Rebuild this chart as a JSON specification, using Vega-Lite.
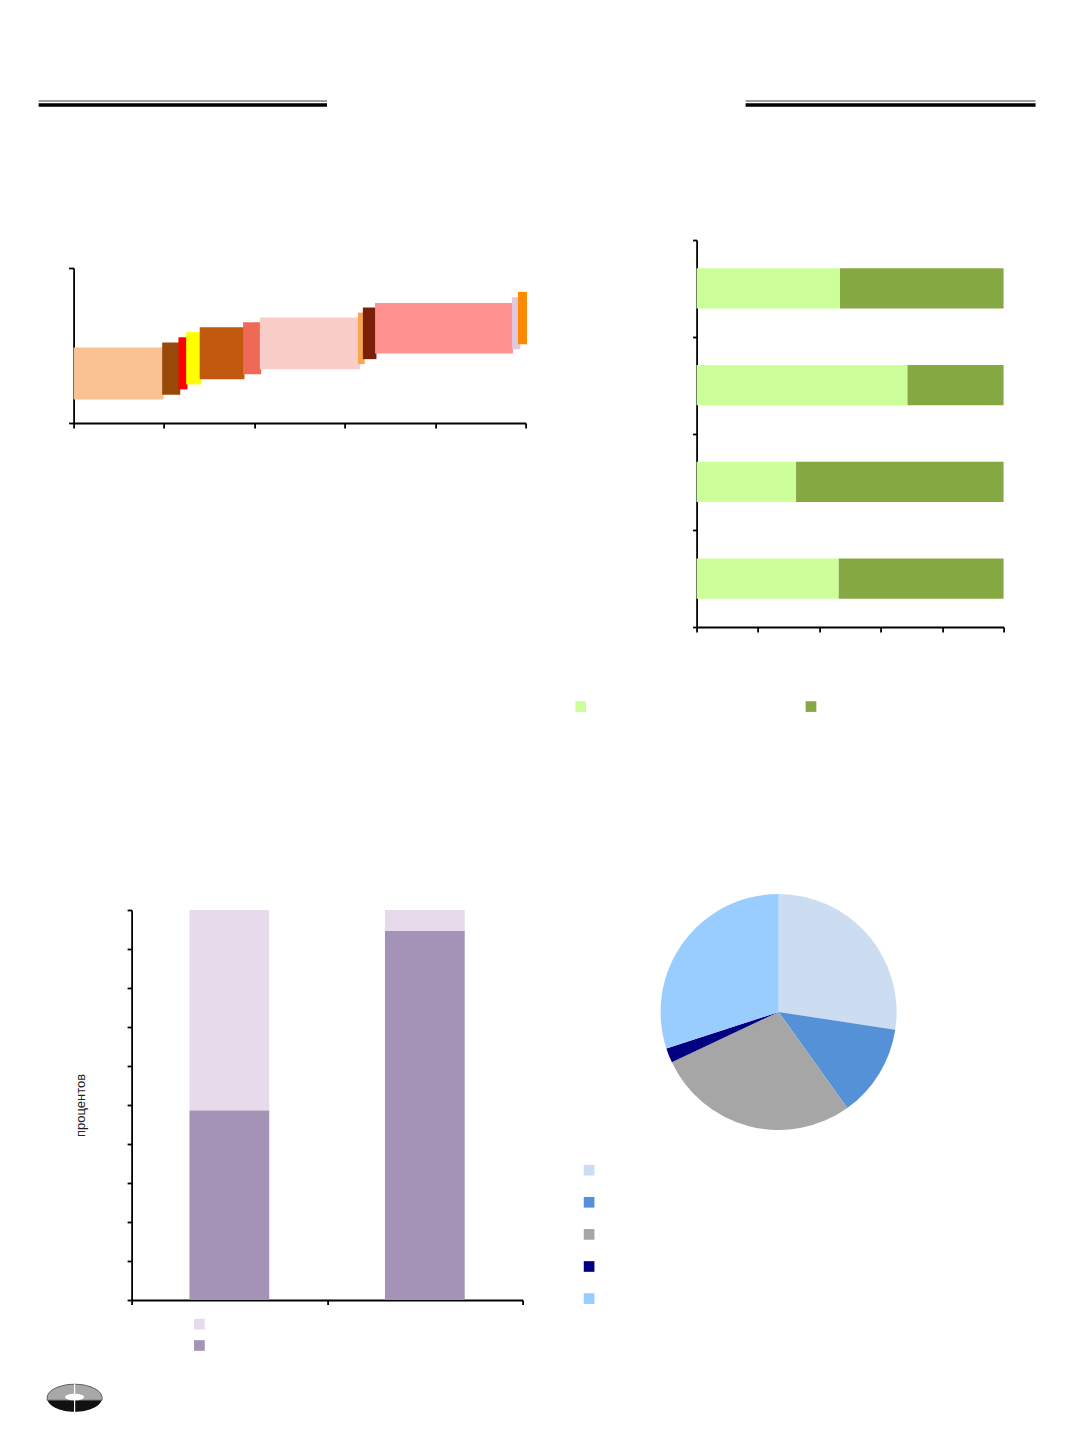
{
  "$schema": "https://vega.github.io/schema/vega-lite/v6.json",
  "background": "white",
  "padding": {"left": 36.6, "top": 99, "right": 0, "bottom": 0},
  "spacing": 0,
  "resolve": {"scale": {"color": "independent"}, "legend": {"color": "independent"}},
  "hconcat": [
    {
      "spacing": 0,
      "resolve": {"scale": {"color": "independent"}, "legend": {"color": "independent"}},
      "vconcat": [
        {
          "width": 288.4, "height": 8,
          "data": {"values": [{"k": 1}]},
          "layer": [
            {"mark": {"type": "rule", "color": "#808080", "strokeWidth": 1.5},
             "encoding": {
               "x": {"datum": 0, "type": "quantitative", "scale": {"domain": [0, 1], "nice": false}, "axis": null},
               "x2": {"datum": 1},
               "y": {"datum": 2, "type": "quantitative", "scale": {"domain": [0, 8], "reverse": true, "nice": false}, "axis": null}}},
            {"mark": {"type": "rule", "color": "#000000", "strokeWidth": 3.4},
             "encoding": {
               "x": {"datum": 0, "type": "quantitative", "axis": null},
               "x2": {"datum": 1},
               "y": {"datum": 6, "type": "quantitative", "axis": null}}}
          ]
        },
        {"width": 535, "height": 159.4, "data": {"values": []}, "mark": "point"},
        {
          "spacing": 0,
          "resolve": {"scale": {"color": "independent"}, "legend": {"color": "independent"}},
          "hconcat": [
            {"width": 28.2, "height": 1, "data": {"values": []}, "mark": "point"},
            {
              "width": 452, "height": 155,
              "data": {"values": [
                {"seg": "s01", "x0": 0, "x1": 19.9, "y0": 15.1, "y1": 48.7},
                {"seg": "s02", "x0": 19.6, "x1": 23.6, "y0": 18.3, "y1": 51.9},
                {"seg": "s03", "x0": 23.2, "x1": 25.2, "y0": 21.7, "y1": 55.3},
                {"seg": "s04", "x0": 24.9, "x1": 28.3, "y0": 24.9, "y1": 58.6},
                {"seg": "s05", "x0": 27.9, "x1": 37.8, "y0": 28.3, "y1": 61.8},
                {"seg": "s06", "x0": 37.5, "x1": 41.5, "y0": 31.5, "y1": 65.0},
                {"seg": "s07", "x0": 41.2, "x1": 63.4, "y0": 34.7, "y1": 68.0},
                {"seg": "s08", "x0": 62.9, "x1": 64.4, "y0": 38.0, "y1": 71.2},
                {"seg": "s09", "x0": 64.0, "x1": 67.0, "y0": 41.2, "y1": 74.5},
                {"seg": "s10", "x0": 66.7, "x1": 97.2, "y0": 44.9, "y1": 77.5},
                {"seg": "s11", "x0": 97.0, "x1": 98.8, "y0": 47.6, "y1": 81.1},
                {"seg": "s12", "x0": 98.3, "x1": 100.3, "y0": 50.8, "y1": 84.6}
              ]},
              "mark": {"type": "rect"},
              "encoding": {
                "x": {"field": "x0", "type": "quantitative", "title": null,
                      "scale": {"domain": [0, 100], "nice": false},
                      "axis": {"values": [0, 20, 40, 60, 80, 100], "tickSize": 5}},
                "x2": {"field": "x1"},
                "y": {"field": "y0", "type": "quantitative", "title": null,
                      "scale": {"domain": [0, 100], "nice": false},
                      "axis": {"values": [0, 100], "tickSize": 5}},
                "y2": {"field": "y1"},
                "color": {"field": "seg", "type": "nominal", "legend": null,
                          "scale": {"domain": ["s01", "s02", "s03", "s04", "s05", "s06", "s07", "s08", "s09", "s10", "s11", "s12"],
                                    "range": ["#FAC193", "#984807", "#FF0000", "#FFFF00", "#C0590E", "#EE6A57", "#F9CDC8", "#FAA64E", "#7B2008", "#FF9191", "#E0C9DC", "#FF8A00"]}}
              }
            }
          ]
        },
        {"width": 1, "height": 479.5, "data": {"values": []}, "mark": "point"},
        {
          "spacing": 0,
          "resolve": {"scale": {"color": "independent"}, "legend": {"color": "independent"}},
          "hconcat": [
            {"width": 34.4, "height": 1, "data": {"values": []}, "mark": "point"},
            {
              "width": 391, "height": 390,
              "data": {"values": [
                {"grp": "A", "part": "Доля 1", "v": 51.4, "o": 2},
                {"grp": "A", "part": "Доля 2", "v": 48.6, "o": 1},
                {"grp": "B", "part": "Доля 1", "v": 5.4, "o": 2},
                {"grp": "B", "part": "Доля 2", "v": 94.6, "o": 1}
              ]},
              "mark": {"type": "bar", "width": {"band": 0.408}},
              "encoding": {
                "x": {"field": "grp", "type": "nominal", "title": null,
                      "scale": {"paddingInner": 0, "paddingOuter": 0},
                      "axis": {"tickBand": "extent", "tickSize": 4.5, "labelAngle": 0}},
                "y": {"field": "v", "type": "quantitative", "stack": "zero", "title": "процентов",
                      "scale": {"domain": [0, 100], "nice": false},
                      "axis": {"values": [0, 10, 20, 30, 40, 50, 60, 70, 80, 90, 100], "tickSize": 4.5,
                               "titleFontSize": 13, "titleFontWeight": "normal", "titleColor": "#222222", "titlePadding": 39}},
                "order": {"field": "o", "type": "quantitative"},
                "color": {"field": "part", "type": "nominal", "title": null,
                          "scale": {"domain": ["Доля 1", "Доля 2"], "range": ["#E6DAEB", "#A492B7"]},
                          "legend": {"orient": "none", "legendX": 62.3, "legendY": 408.7, "direction": "vertical",
                                     "rowPadding": 10.3, "labelExpr": "''", "labelOpacity": 0}}
              }
            }
          ]
        },
        {"width": 1, "height": 29.2, "data": {"values": []}, "mark": "point"},
        {
          "spacing": 0,
          "hconcat": [
            {"width": 5.4, "height": 1, "data": {"values": []}, "mark": "point"},
            {
              "width": 56, "height": 28,
              "data": {"values": [{"k": 1}]},
              "encoding": {
                "x": {"datum": 28, "type": "quantitative", "scale": {"domain": [0, 56], "nice": false}, "axis": null},
                "y": {"datum": 14, "type": "quantitative", "scale": {"domain": [0, 28], "reverse": true, "nice": false}, "axis": null}
              },
              "layer": [
                {"mark": {"type": "point", "filled": true, "color": "#111111", "opacity": 1, "strokeWidth": 0, "size": 3025,
                          "shape": "M -1 0 A 1 0.5 0 1 0 1 0 A 1 0.5 0 1 0 -1 0 Z"}},
                {"mark": {"type": "point", "filled": true, "color": "#A8A8A8", "opacity": 1, "size": 3025,
                          "stroke": "#555555", "strokeWidth": 0.8,
                          "shape": "M -1 0 A 1 0.5 0 0 1 1 0 L 1 0.08 L -1 0.08 Z"}},
                {"mark": {"type": "point", "filled": true, "color": "#FFFFFF", "opacity": 1, "strokeWidth": 0, "size": 361,
                          "shape": "M -1 -0.1 A 1 0.36 0 1 0 1 -0.1 A 1 0.36 0 1 0 -1 -0.1 Z"}},
                {"mark": {"type": "rule", "color": "#FFFFFF", "strokeWidth": 1.2},
                 "encoding": {"y": {"datum": 0, "type": "quantitative"}, "y2": {"datum": 28}}}
              ]
            }
          ]
        }
      ]
    },
    {
      "spacing": 0,
      "resolve": {"scale": {"color": "independent"}, "legend": {"color": "independent"}},
      "vconcat": [
        {
          "spacing": 0,
          "hconcat": [
            {"width": 170, "height": 8, "data": {"values": []}, "mark": "point"},
            {
              "width": 290, "height": 8,
              "data": {"values": [{"k": 1}]},
              "layer": [
                {"mark": {"type": "rule", "color": "#808080", "strokeWidth": 1.5},
                 "encoding": {
                   "x": {"datum": 0, "type": "quantitative", "scale": {"domain": [0, 1], "nice": false}, "axis": null},
                   "x2": {"datum": 1},
                   "y": {"datum": 2, "type": "quantitative", "scale": {"domain": [0, 8], "reverse": true, "nice": false}, "axis": null}}},
                {"mark": {"type": "rule", "color": "#000000", "strokeWidth": 3.4},
                 "encoding": {
                   "x": {"datum": 0, "type": "quantitative", "axis": null},
                   "x2": {"datum": 1},
                   "y": {"datum": 6, "type": "quantitative", "axis": null}}}
              ]
            }
          ]
        },
        {"width": 1, "height": 131.1, "data": {"values": []}, "mark": "point"},
        {
          "spacing": 0,
          "resolve": {"scale": {"color": "independent"}, "legend": {"color": "independent"}},
          "hconcat": [
            {"width": 1, "height": 1, "data": {"values": []}, "mark": "point"},
            {
              "width": 307, "height": 387,
              "data": {"values": [
                {"row": "1", "part": "Ряд 1", "v": 46.7, "o": 1},
                {"row": "1", "part": "Ряд 2", "v": 53.3, "o": 2},
                {"row": "2", "part": "Ряд 1", "v": 68.7, "o": 1},
                {"row": "2", "part": "Ряд 2", "v": 31.3, "o": 2},
                {"row": "3", "part": "Ряд 1", "v": 32.4, "o": 1},
                {"row": "3", "part": "Ряд 2", "v": 67.6, "o": 2},
                {"row": "4", "part": "Ряд 1", "v": 46.3, "o": 1},
                {"row": "4", "part": "Ряд 2", "v": 53.7, "o": 2}
              ]},
              "mark": {"type": "bar", "height": {"band": 0.416}},
              "encoding": {
                "y": {"field": "row", "type": "nominal", "title": null,
                      "scale": {"paddingInner": 0, "paddingOuter": 0},
                      "axis": {"tickBand": "extent", "tickSize": 4}},
                "x": {"field": "v", "type": "quantitative", "stack": "zero", "title": null,
                      "scale": {"domain": [0, 100], "nice": false},
                      "axis": {"values": [0, 20, 40, 60, 80, 100], "tickSize": 5}},
                "order": {"field": "o", "type": "quantitative"},
                "color": {"field": "part", "type": "nominal", "title": null,
                          "scale": {"domain": ["Ряд 1", "Ряд 2"], "range": ["#CCFF99", "#86A843"]},
                          "legend": {"orient": "none", "legendX": -121.4, "legendY": 461, "direction": "horizontal",
                                     "columnPadding": 219.3, "labelExpr": "''", "labelOpacity": 0}}
              }
            }
          ]
        },
        {"width": 1, "height": 181.4, "data": {"values": []}, "mark": "point"},
        {
          "spacing": 0,
          "resolve": {"scale": {"color": "independent"}, "legend": {"color": "independent"}},
          "hconcat": [
            {"width": 9.4, "height": 1, "data": {"values": []}, "mark": "point"},
            {
              "width": 236, "height": 236,
              "data": {"values": [
                {"cat": "Категория 1", "v": 27.4, "o": 1},
                {"cat": "Категория 2", "v": 12.7, "o": 2},
                {"cat": "Категория 3", "v": 27.9, "o": 3},
                {"cat": "Категория 4", "v": 2.0, "o": 4},
                {"cat": "Категория 5", "v": 30.0, "o": 5}
              ]},
              "mark": {"type": "arc"},
              "encoding": {
                "theta": {"field": "v", "type": "quantitative", "stack": true},
                "order": {"field": "o", "type": "quantitative"},
                "color": {"field": "cat", "type": "nominal", "title": null,
                          "scale": {"domain": ["Категория 1", "Категория 2", "Категория 3", "Категория 4", "Категория 5"],
                                    "range": ["#CCDDF2", "#5591D6", "#A6A6A6", "#000080", "#99CCFF"]},
                          "legend": {"orient": "none", "legendX": -77, "legendY": 270.7, "direction": "vertical",
                                     "rowPadding": 21.1, "labelExpr": "''", "labelOpacity": 0}}
              }
            }
          ]
        }
      ]
    }
  ],
  "config": {
    "view": {"stroke": null},
    "axis": {"domainColor": "#000000", "tickColor": "#000000", "domainWidth": 1.8, "tickWidth": 1.8,
             "labels": false, "grid": false, "titleFont": "Liberation Sans"},
    "legend": {"symbolType": "square", "symbolSize": 114, "symbolStrokeWidth": 0,
               "labelFontSize": 1, "labelOffset": 0, "padding": 0}
  }
}
